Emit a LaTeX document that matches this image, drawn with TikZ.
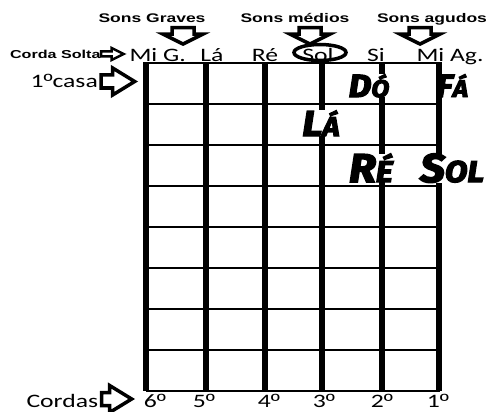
\documentclass[tikz,border=0pt]{standalone}
\usepackage{fontspec}
\usetikzlibrary{shapes.arrows,shapes.geometric}
\newfontfamily\labfont{Carlito}[FakeStretch=1.35]
\newfontfamily\ordfont{Liberation Sans}[FakeStretch=1.3]
\newfontfamily\headfont{Liberation Sans}[FakeStretch=1.4]
\newfontfamily\notefont{Fira Sans}[FakeStretch=1.1,BoldItalicFeatures={FakeBold=4}]
\newcommand{\capnote}[4]{{\fontsize{#1}{#1}\selectfont #2}{\fontsize{#3}{#3}\selectfont #4}}
\newcommand{\ord}{{\ordfont º}}
\tikzset{
  head/.style={font=\headfont\bfseries\fontsize{12.5}{14}\selectfont,anchor=base},
  lab/.style={font=\labfont\fontsize{19}{21}\selectfont,anchor=base},
  note/.style={font=\notefont\bfseries\itshape,anchor=base,inner sep=0pt},
  darrow/.style={draw,fill=white,single arrow,rotate=-90,line width=3.5pt,
    inner xsep=0pt,inner ysep=9.25pt,single arrow head extend=9pt,single arrow tip angle=127,
    minimum height=16.5pt,anchor=tip},
  rarrow/.style={draw,fill=white,single arrow,line width=3.5pt,inner xsep=0pt,inner ysep=4.75pt,
    single arrow head extend=7pt,single arrow tip angle=63,minimum height=33.5pt,anchor=tip},
  sarrow/.style={draw,fill=white,single arrow,line width=2.5pt,inner xsep=0pt,inner ysep=1.25pt,
    single arrow head extend=3.5pt,single arrow tip angle=53,minimum height=22.5pt,anchor=tip}
}
\begin{document}
\begin{tikzpicture}[x=1pt,y=-1pt]
\fill[white] (0,0) rectangle (490,412);
\useasboundingbox (0,0) rectangle (490,412);
\foreach \x in {146,206,265,322,382,439} \draw[line width=5.5pt] (\x,62)--(\x,391);
\node[note,fill=white] (do) at (369,97) {\capnote{32}{D}{24}{Ó}};
\node[note] (fa) at (452,97) {\capnote{32}{F}{24}{Á}};
\node[note,fill=white] (la) at (321,136) {\capnote{36}{L}{27}{Á}};
\node[note,fill=white] (re) at (371,182) {\capnote{40}{R}{30}{É}};
\node[note,fill=white,anchor=base west] (sol) at (420,182) {\capnote{40}{S}{30}{OL}};
\foreach \y in {63,104,...,391} \draw[line width=1.8pt] (146,\y)--(440,\y);
\node[head] (graves) at (152,23) {Sons Graves};
\node[head] (medios) at (295,23) {Sons médios};
\node[head] (agudos) at (432,23) {Sons agudos};
\node[darrow] (agraves) at (183,46) {};
\node[darrow] (amedios) at (310,46) {};
\node[darrow] (aagudos) at (420,46) {};
\node[draw,ellipse,line width=3.5pt,minimum width=52pt,minimum height=16pt,inner sep=0pt] (solring) at (320,52.5) {};
\node[head,font=\headfont\bfseries\fontsize{11.5}{13}\selectfont,anchor=base east] (solta) at (104,59) {Corda Solta};
\node[sarrow] (asolta) at (126.5,54) {};
\node[lab,anchor=base west] (mig) at (126,62) {Mi G.};
\node[lab] (lat) at (212,62) {Lá};
\node[lab] (ret) at (265,62) {Ré};
\node[lab] (solt) at (318,62) {Sol};
\node[lab] (sit) at (376,62) {Si};
\node[lab,anchor=base west] (miag) at (413,62) {Mi Ag.};
\node[lab,anchor=base west] (casa) at (27,88) {1\ord casa};
\node[rarrow] (acasa) at (138,81.5) {};
\node[lab,anchor=base west] (cordas) at (23,407) {Cordas};
\node[rarrow,minimum height=30pt] (acordas) at (135,399) {};
\node[lab] (c6) at (155,407) {6\ord};
\node[lab] (c5) at (204,407) {5\ord};
\node[lab] (c4) at (269,407) {4\ord};
\node[lab] (c3) at (324,407) {3\ord};
\node[lab] (c2) at (382,407) {2\ord};
\node[lab] (c1) at (438,407) {1\ord};
\end{tikzpicture}
\end{document}
